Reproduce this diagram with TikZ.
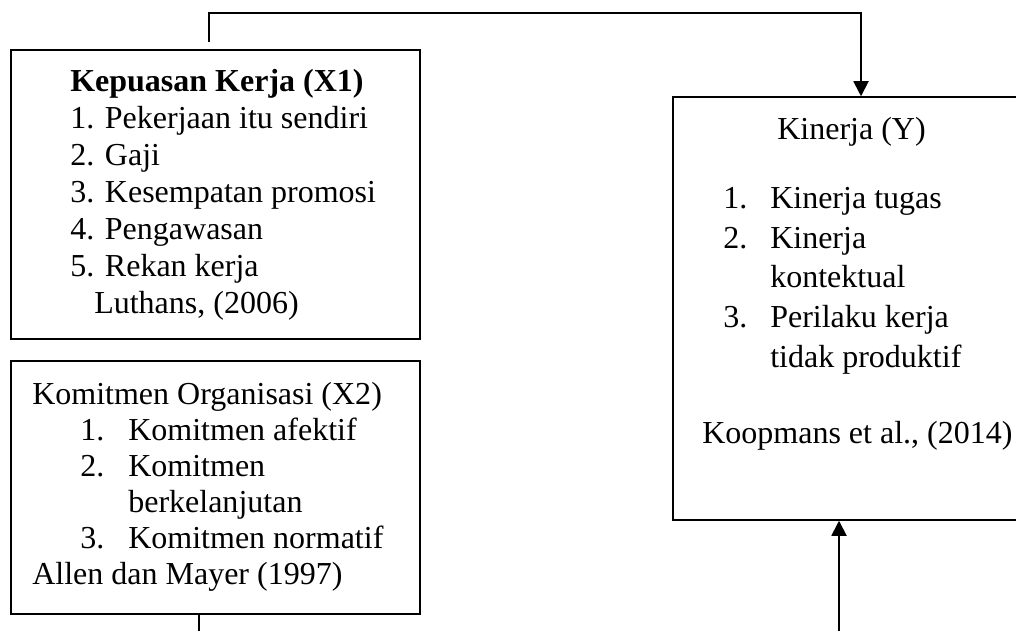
\documentclass[tikz,border=0pt]{standalone}
\usepackage{fontspec}
\setmainfont{Liberation Serif}
\usetikzlibrary{arrows.meta}

\tikzset{
    box/.style={draw, line width=1pt, inner sep=0pt},
    txt/.style={anchor=base west, align=left, inner sep=0pt},
    arr/.style={line width=1.3pt, -{Triangle[width=0.375cm,length=0.375cm]}}
}

\begin{document}
\begin{tikzpicture}[x=0.025cm, y=-0.025cm]

    \useasboundingbox (0,0) rectangle (1016,630);

    % Boxes
    \node[box, minimum width=10.225cm, minimum height=7.225cm] (kepuasan) at (215.5,194.5) {};
    \node[box, minimum width=10.225cm, minimum height=6.325cm] (komitmen) at (215.5,487.5) {};
    \node[box, minimum width=9.4cm, minimum height=10.575cm] (kinerja) at (861,308.5) {};

    % Texts (placed at the baseline of their last line)
    \node[txt, font=\fontsize{22.76pt}{26.3pt}\selectfont] (kepuasanTxt) at (70,313) {
        \textbf{Kepuasan Kerja (X1)}\\
        1. Pekerjaan itu sendiri\\
        2. Gaji\\
        3. Kesempatan promosi\\
        4. Pengawasan\\
        5. Rekan kerja\\
        \hspace*{0.6cm}Luthans, (2006)};
    \node[txt, font=\fontsize{22.76pt}{25.5pt}\selectfont] (komitmenTxt) at (32,584) {
        Komitmen Organisasi (X2)\\
        \hspace*{1.2cm}\makebox[1.2cm][l]{1.}Komitmen afektif\\
        \hspace*{1.2cm}\makebox[1.2cm][l]{2.}Komitmen\\
        \hspace*{2.4cm}berkelanjutan\\
        \hspace*{1.2cm}\makebox[1.2cm][l]{3.}Komitmen normatif\\
        Allen dan Mayer (1997)};
    \node[txt, font=\fontsize{22.76pt}{28.2pt}\selectfont] (kinerjaJudul) at (777,139) {Kinerja (Y)};
    \node[txt, font=\fontsize{22.76pt}{28.2pt}\selectfont] (kinerjaTxt) at (723,367) {
        \makebox[1.175cm][l]{1.}Kinerja tugas\\
        \makebox[1.175cm][l]{2.}Kinerja\\
        \hspace*{1.175cm}kontektual\\
        \makebox[1.175cm][l]{3.}Perilaku kerja\\
        \hspace*{1.175cm}tidak produktif};
    \node[txt, font=\fontsize{22.76pt}{28.2pt}\selectfont] (kinerjaSumber) at (702,443) {Koopmans et al., (2014)};

    % Connectors
    \coordinate (kepuasanUp) at (209,42);
    \coordinate (topCorner) at (209,13);
    \draw[arr] (kepuasanUp) -- (topCorner) -| (kinerja.north);
    \coordinate (komitmenDown) at (199,640);
    \draw[line width=1.3pt] (komitmen.south -| komitmenDown) -- (komitmenDown);
    \coordinate (kinerjaIn) at (839,640);
    \draw[arr] (kinerjaIn) -- (kinerja.south -| kinerjaIn);

\end{tikzpicture}
\end{document}
